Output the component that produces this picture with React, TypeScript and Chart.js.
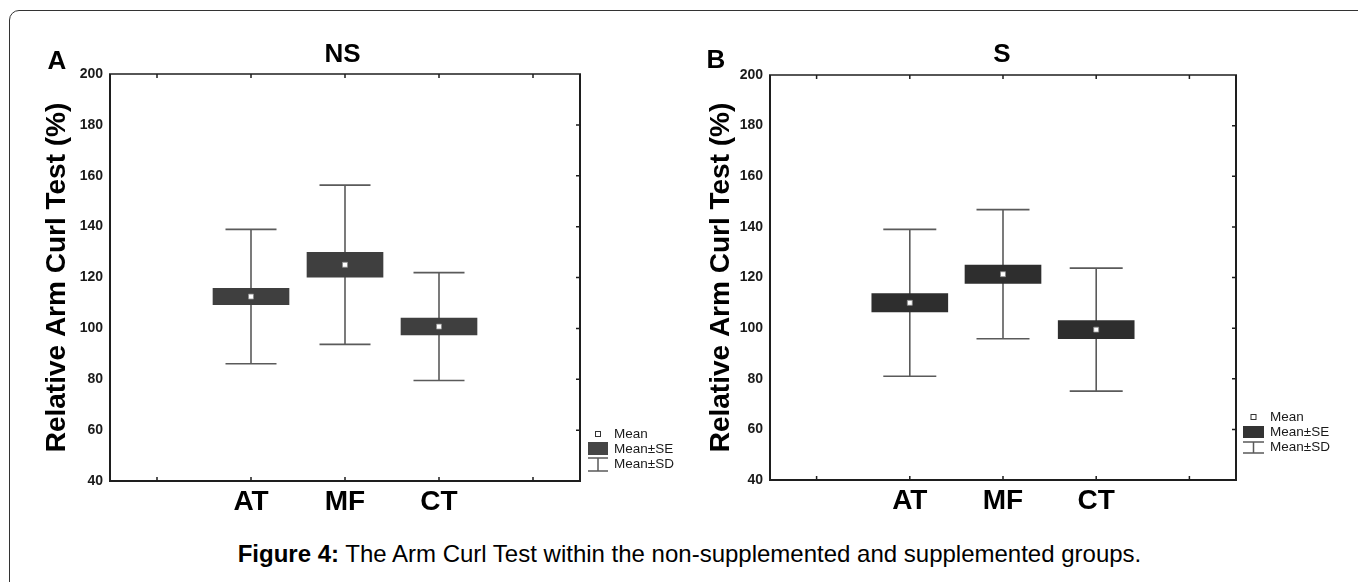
import { useEffect, useRef } from "react";
import { Chart, registerables } from "chart.js";

Chart.register(...registerables);

// ---------- data ----------
const categories = ["", "AT", "MF", "CT", ""];
const yMin = 40;
const yMax = 200;
const yStep = 20;

// Panel A: NS (non-supplemented)
const nsMean = [null, 112.5, 125.0, 100.7, null];
const nsSE = [null, 3.2, 4.9, 3.3, null];
const nsSD = [null, 26.4, 31.3, 21.2, null];

// Panel B: S (supplemented)
const sMean = [null, 110.0, 121.3, 99.4, null];
const sSE = [null, 3.6, 3.6, 3.6, null];
const sSD = [null, 29.0, 25.5, 24.3, null];

const legendLabels = ["Mean", "Mean±SE", "Mean±SD"];
const yAxisTitle = "Relative Arm Curl Test (%)";
const captionBold = "Figure 4:";
const captionText = " The Arm Curl Test within the non-supplemented and supplemented groups.";

const FONT = "'Liberation Sans', Arial, Helvetica, sans-serif";

type Panel = {
  letter: string;
  title: string;
  mean: (number | null)[];
  se: (number | null)[];
  sd: (number | null)[];
  boxColor: string;
  legendBoxColor: string;
  canvasLeft: number;
  width: number;
  height: number;
  area: { left: number; top: number; right: number; bottom: number };
  titleX: number;
  titleY: number;
  letterX: number;
  letterY: number;
  yTitlePad: number;
  capHalf: number;
  barThickness: number;
  legend: {
    symX: number;
    symW: number;
    textX: number;
    meanY: number;
    seTop: number;
    seBottom: number;
    sdTop: number;
    sdBottom: number;
    textYs: number[];
  };
};

const panels: Panel[] = [
  {
    letter: "A",
    title: "NS",
    mean: nsMean,
    se: nsSE,
    sd: nsSD,
    boxColor: "#3f3f3f",
    legendBoxColor: "#454545",
    canvasLeft: 0,
    width: 680,
    height: 540,
    area: { left: 110, top: 74, right: 580, bottom: 481 },
    titleX: 342.5,
    titleY: 55,
    letterX: 57,
    letterY: 62,
    yTitlePad: 40,
    capHalf: 25.5,
    barThickness: 76,
    legend: {
      symX: 588,
      symW: 20,
      textX: 614,
      meanY: 434,
      seTop: 442,
      seBottom: 455,
      sdTop: 458,
      sdBottom: 471,
      textYs: [434, 449, 464],
    },
  },
  {
    letter: "B",
    title: "S",
    mean: sMean,
    se: sSE,
    sd: sSD,
    boxColor: "#2e2e2e",
    legendBoxColor: "#333333",
    canvasLeft: 660,
    width: 698,
    height: 540,
    area: { left: 110, top: 75, right: 576, bottom: 480 },
    titleX: 342,
    titleY: 55,
    letterX: 56,
    letterY: 61,
    yTitlePad: 44,
    capHalf: 26.5,
    barThickness: 76,
    legend: {
      symX: 583,
      symW: 21,
      textX: 610,
      meanY: 417,
      seTop: 426,
      seBottom: 438,
      sdTop: 442,
      sdBottom: 453,
      textYs: [417, 432, 447],
    },
  },
];

function makePlugin(p: Panel) {
  return {
    id: "armCurlDecor",
    beforeDatasetsDraw(chart: any) {
      const ctx = chart.ctx;
      const xs = chart.scales.x;
      const ys = chart.scales.y;
      ctx.save();
      ctx.strokeStyle = "#5a5a5a";
      ctx.lineWidth = 1.6;
      p.mean.forEach((m, i) => {
        const sd = p.sd[i];
        if (m == null || sd == null) return;
        const x = xs.getPixelForValue(i);
        const yHi = ys.getPixelForValue(m + sd);
        const yLo = ys.getPixelForValue(m - sd);
        ctx.beginPath();
        ctx.moveTo(x, yHi);
        ctx.lineTo(x, yLo);
        ctx.moveTo(x - p.capHalf, yHi);
        ctx.lineTo(x + p.capHalf, yHi);
        ctx.moveTo(x - p.capHalf, yLo);
        ctx.lineTo(x + p.capHalf, yLo);
        ctx.stroke();
      });
      ctx.restore();
    },
    afterDraw(chart: any) {
      const ctx = chart.ctx;
      const a = chart.chartArea;
      const xs = chart.scales.x;
      const ys = chart.scales.y;
      ctx.save();
      // frame
      ctx.strokeStyle = "#1e1e1e";
      ctx.lineWidth = 2;
      ctx.beginPath();
      ctx.moveTo(a.left, a.top);
      ctx.lineTo(a.left, a.bottom);
      ctx.lineTo(a.right, a.bottom);
      ctx.lineTo(a.right, a.top);
      ctx.stroke();
      ctx.lineWidth = 1.5;
      ctx.beginPath();
      ctx.moveTo(a.left - 1, a.top);
      ctx.lineTo(a.right + 1, a.top);
      ctx.stroke();
      // inward ticks
      ctx.lineWidth = 1.5;
      ctx.beginPath();
      for (let i = 0; i < xs.ticks.length; i++) {
        const x = xs.getPixelForTick(i);
        ctx.moveTo(x, a.top);
        ctx.lineTo(x, a.top + 4);
        ctx.moveTo(x, a.bottom);
        ctx.lineTo(x, a.bottom - 4);
      }
      ys.ticks.forEach((t: any) => {
        if (t.value <= yMin || t.value >= yMax) return;
        const y = ys.getPixelForValue(t.value);
        ctx.moveTo(a.right, y);
        ctx.lineTo(a.right - 4, y);
      });
      ctx.stroke();

      // title & panel letter
      ctx.fillStyle = "#000";
      ctx.textAlign = "center";
      ctx.textBaseline = "middle";
      ctx.font = `bold 26px ${FONT}`;
      ctx.fillText(p.title, p.titleX, p.titleY);
      ctx.fillText(p.letter, p.letterX, p.letterY);

      // legend
      const L = p.legend;
      const cx = L.symX + L.symW / 2;
      ctx.fillStyle = "#fff";
      ctx.strokeStyle = "#333";
      ctx.lineWidth = 1;
      ctx.fillRect(cx - 2.5, L.meanY - 2.5, 5, 5);
      ctx.strokeRect(cx - 2.5, L.meanY - 2.5, 5, 5);
      ctx.fillStyle = p.legendBoxColor;
      ctx.fillRect(L.symX, L.seTop, L.symW, L.seBottom - L.seTop);
      ctx.strokeStyle = "#5a5a5a";
      ctx.lineWidth = 1.5;
      ctx.beginPath();
      ctx.moveTo(L.symX, L.sdTop);
      ctx.lineTo(L.symX + L.symW, L.sdTop);
      ctx.moveTo(cx, L.sdTop);
      ctx.lineTo(cx, L.sdBottom);
      ctx.moveTo(L.symX, L.sdBottom);
      ctx.lineTo(L.symX + L.symW, L.sdBottom);
      ctx.stroke();
      ctx.fillStyle = "#1a1a1a";
      ctx.textAlign = "left";
      ctx.textBaseline = "middle";
      ctx.font = `13.5px ${FONT}`;
      legendLabels.forEach((lab, i) => ctx.fillText(lab, L.textX, L.textYs[i]));
      ctx.restore();
    },
  };
}

function PanelChart({ p }: { p: Panel }) {
  const ref = useRef<HTMLCanvasElement | null>(null);
  useEffect(() => {
    const canvas = ref.current;
    if (!canvas) return;
    const chart = new Chart(canvas, {
      type: "bar",
      data: {
        labels: categories,
        datasets: [
          {
            type: "bar",
            data: p.mean.map((m, i) => {
              const se = p.se[i];
              return m == null || se == null ? null : [m - se, m + se];
            }) as any,
            backgroundColor: p.boxColor,
            borderWidth: 0,
            barThickness: p.barThickness,
            order: 2,
          },
          {
            type: "line",
            data: p.mean as any,
            showLine: false,
            pointStyle: "rect",
            pointRadius: 3.5,
            pointBackgroundColor: "#ffffff",
            pointBorderColor: "#8a8a8a",
            pointBorderWidth: 0.8,
            order: 1,
          } as any,
        ],
      },
      options: {
        responsive: false,
        animation: false,
        events: [],
        layout: {
          padding: {
            left: 0,
            top: p.area.top,
            right: p.width - p.area.right,
            bottom: 0,
          },
        },
        plugins: {
          legend: { display: false },
          tooltip: { enabled: false },
          title: { display: false },
        },
        scales: {
          x: {
            type: "category",
            offset: true,
            grid: { display: false, drawTicks: false },
            border: { display: false },
            ticks: {
              color: "#000",
              padding: 4,
              autoSkip: false,
              maxRotation: 0,
              font: { family: FONT, size: 28, weight: "bold" },
            },
            afterFit: (scale: any) => {
              scale.height = p.height - p.area.bottom;
            },
          },
          y: {
            min: yMin,
            max: yMax,
            grid: { display: false, drawTicks: false },
            border: { display: false },
            ticks: {
              stepSize: yStep,
              color: "#1a1a1a",
              padding: 7,
              font: { family: FONT, size: 14, weight: "bold" },
            },
            title: {
              display: true,
              text: yAxisTitle,
              color: "#000",
              padding: { top: p.yTitlePad, bottom: 0 },
              font: { family: FONT, size: 28, weight: "bold", lineHeight: 1.2 },
            },
            afterFit: (scale: any) => {
              scale.width = p.area.left;
            },
          },
        },
      } as any,
      plugins: [makePlugin(p)],
    });
    return () => chart.destroy();
  }, [p]);
  return (
    <canvas
      ref={ref}
      width={p.width}
      height={p.height}
      style={{ position: "absolute", left: p.canvasLeft, top: 0, width: p.width, height: p.height }}
    />
  );
}

export default function App() {
  return (
    <div
      style={{
        position: "fixed",
        left: 0,
        top: 0,
        width: "100vw",
        height: "100vh",
        overflow: "hidden",
        background: "#fff",
      }}
    >
      <div
        style={{
          position: "absolute",
          left: 9,
          top: 10,
          width: 1600,
          height: 900,
          border: "1px solid #333",
          borderRadius: 10,
          boxSizing: "border-box",
        }}
      />
      {panels.map((p) => (
        <PanelChart key={p.letter} p={p} />
      ))}
      <div
        style={{
          position: "absolute",
          left: 0,
          width: 1379,
          top: 540,
          textAlign: "center",
          fontFamily: FONT,
          fontSize: 24,
          lineHeight: "28px",
          whiteSpace: "nowrap",
          color: "#000",
        }}
      >
        <b>{captionBold}</b>
        {captionText}
      </div>
    </div>
  );
}
